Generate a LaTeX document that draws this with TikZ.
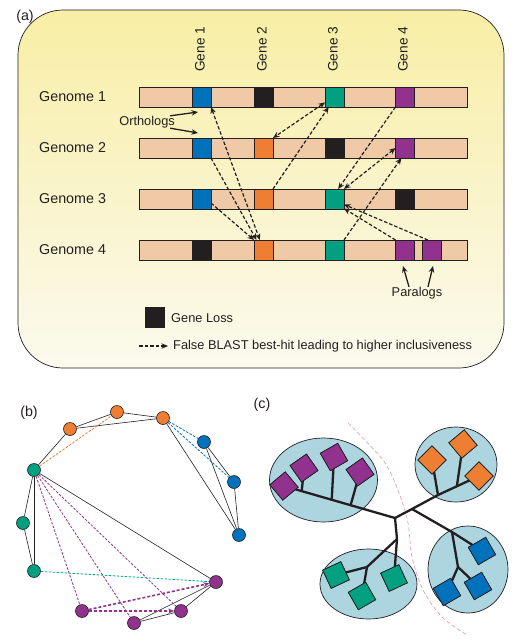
\documentclass[tikz,border=0pt]{standalone}
\usepackage{fontspec}
\setmainfont{Liberation Sans}
\usetikzlibrary{arrows.meta,shapes.geometric,calc}
\definecolor{inkc}{RGB}{35,31,32}
\definecolor{gblue}{RGB}{0,114,188}
\definecolor{gorange}{RGB}{238,126,50}
\definecolor{ggreen}{RGB}{0,160,128}
\definecolor{gpurple}{RGB}{146,50,143}
\definecolor{peach}{RGB}{240,201,166}
\definecolor{ytop}{RGB}{248,238,165}
\definecolor{ybot}{RGB}{251,250,238}
\definecolor{lblue}{RGB}{172,213,224}
\definecolor{pinkc}{RGB}{226,160,180}
\begin{document}
\begin{tikzpicture}[x=1pt,y=-1pt,
 lab/.style={inner sep=0pt, text=inkc, font=\fontsize{14.3}{16}\selectfont},
 genelab/.style={inner sep=0pt, text=inkc, font=\fontsize{13.7}{16}\selectfont, rotate=90, anchor=west},
 small/.style={inner sep=0pt, text=inkc, font=\fontsize{12.8}{15}\selectfont},
 bar/.style={draw=inkc, line width=0.7pt, fill=peach, minimum width=328pt, minimum height=20pt, inner sep=0pt, outer sep=0pt},
 cell/.style={draw=inkc, line width=0.7pt, fill=#1, minimum width=19pt, minimum height=20pt, inner sep=0pt, outer sep=0pt},
 hit/.style={draw=inkc, line width=1.2pt, dash pattern=on 3.5pt off 2pt, -{Stealth[length=6.5pt,width=5.5pt]}},
 hitb/.style={draw=inkc, line width=1.2pt, dash pattern=on 3.5pt off 2pt, {Stealth[length=6.5pt,width=5.5pt]}-{Stealth[length=6.5pt,width=5.5pt]}},
 pointer/.style={draw=inkc, line width=1.3pt, -{Stealth[length=6.5pt,width=5.5pt]}},
 bn/.style={circle, draw=inkc, line width=0.6pt, minimum size=13pt, inner sep=0pt, fill=#1},
 bl/.style={draw=inkc, line width=0.6pt},
 bd/.style={draw=#1, line width=0.8pt, dash pattern=on 2.5pt off 1.5pt},
 pth/.style={draw=gpurple, line width=1.6pt, dash pattern=on 3pt off 2pt, -{Stealth[length=6pt,width=5pt]}},
 grp/.style={ellipse, draw=inkc, line width=0.7pt, fill=lblue, inner sep=0pt},
 tr/.style={draw=inkc, line width=2.3pt, line cap=round, line join=round},
 sq/.style={draw=inkc, line width=0.7pt, fill=#1, minimum size=20pt, inner sep=0pt}]
\useasboundingbox (0,0) rectangle (517,641);

% ---------------- panel (a) ----------------
\shade[top color=ytop, bottom color=ybot, rounded corners=45pt] (18,10) rectangle (504,368);
\draw[inkc, line width=0.7pt, rounded corners=45pt] (18,10) rectangle (504,368);
\node[lab] (la) at (25,17) {(a)};

\node[genelab] (lg1) at (200,72) {Gene 1};
\node[genelab] (lg2) at (262,72) {Gene 2};
\node[genelab] (lg3) at (333,72) {Gene 3};
\node[genelab] (lg4) at (403,72) {Gene 4};

\node[lab, anchor=west] (n1) at (39,97) {Genome 1};
\node[lab, anchor=west] (n2) at (39,148) {Genome 2};
\node[lab, anchor=west] (n3) at (39,199) {Genome 3};
\node[lab, anchor=west] (n4) at (39,250) {Genome 4};

\node[bar] (bar1) at (303,97) {};
\node[bar] (bar2) at (303,148) {};
\node[bar] (bar3) at (303,199) {};
\node[bar] (bar4) at (303,250) {};

\node[cell=gblue] (c11) at (201.5,97) {};
\node[cell=inkc] (c12) at (263.5,97) {};
\node[cell=ggreen] (c13) at (334.5,97) {};
\node[cell=gpurple] (c14) at (405,97) {};

\node[cell=gblue] (c21) at (201.5,148) {};
\node[cell=gorange] (c22) at (263.5,148) {};
\node[cell=inkc] (c23) at (334.5,148) {};
\node[cell=gpurple] (c24) at (405,148) {};

\node[cell=gblue] (c31) at (201.5,199) {};
\node[cell=gorange] (c32) at (263.5,199) {};
\node[cell=ggreen] (c33) at (334.5,199) {};
\node[cell=inkc] (c34) at (405,199) {};

\node[cell=inkc] (c41) at (201.5,250) {};
\node[cell=gorange] (c42) at (263.5,250) {};
\node[cell=ggreen] (c43) at (334.5,250) {};
\node[cell=gpurple] (c44) at (405,250) {};
\node[cell=gpurple] (c45) at (431.5,250) {};

% false best hits
\draw[hitb] (c11.south east) -- (c42.110);
\draw[hit] (c21.south east) -- (c42.125);
\draw[hit] (c31.-23) -- (c42.north west);
\draw[hitb] (c13.-150) -- (c22.north east);
\draw[hit] (c32.north east) -- (c13.-120);
\draw[hit] (c14.south west) -- (c33.70);
\draw[hitb] (c24.west) -- (c33.north east);
\draw[hit] (c43.north east) -- (c24.-110);
\draw[hit] (c45.110) -- (c33.-30);
\draw[hit] (c44.north west) -- (c33.-45);

% orthologs / paralogs
\node[small, anchor=east] (orth) at (175,122) {Orthologs};
\coordinate (oa) at (198,112);
\coordinate (ob) at (198,133);
\draw[pointer] (orth.15) -- (oa);
\draw[pointer] (orth.-15) -- (ob);

\node[small] (para) at (417,293) {Paralogs};
\coordinate (pa) at (403,266);
\coordinate (pb) at (433,266);
\draw[pointer] ($(para.north)+(-8,0)$) -- (pa);
\draw[pointer] ($(para.north)+(11,0)$) -- (pb);

% legend
\node[cell=inkc] (leg) at (154.5,317) {};
\node[small, anchor=west] (legt) at (171,318) {Gene Loss};
\coordinate (lgs) at (139,346);
\node[small, anchor=west] (legh) at (173,346) {False BLAST best-hit leading to higher inclusiveness};
\draw[hit, shorten >=5pt] (lgs) -- (legh.west);

% ---------------- panel (b) ----------------
\node[lab] (lb) at (29,413) {(b)};
\node[bn=gorange] (O1) at (70,429) {};
\node[bn=gorange] (O2) at (117,412) {};
\node[bn=gorange] (O3) at (163,418) {};
\node[bn=gblue] (B1) at (204,442) {};
\node[bn=gblue] (B2) at (234,482) {};
\node[bn=gblue] (B3) at (239,535) {};
\node[bn=ggreen] (G1) at (34,470) {};
\node[bn=ggreen] (G2) at (23,523) {};
\node[bn=ggreen] (G3) at (34,571) {};
\node[bn=gpurple] (P1) at (216,582) {};
\node[bn=gpurple] (P2) at (82,611) {};
\node[bn=gpurple] (P3) at (134,623) {};
\node[bn=gpurple] (P4) at (181,611) {};

\draw[bl] (O1) -- (O2);
\draw[bl] (O2) -- (O3);
\draw[bl] (O1) -- (O3);
\draw[bl] (O1) -- (G1);
\draw[bl] (O3) -- (B3);
\draw[bl] (B1) -- (B2);
\draw[bl] (B1) -- (B3);
\draw[bl] (B2) -- (B3);
\draw[bl] (G1) -- (G2);
\draw[bl] (G2) -- (G3);
\draw[bl] (G1) -- (G3);
\draw[bl] (G1) -- (P1);
\draw[bl] (P1) -- (P3);
\draw[bl] (P1) -- (P4);
\draw[bl] (P3) -- (P4);

\draw[bd=gorange] (G1) -- (O2);
\draw[bd=gblue] (O3) -- (B1);
\draw[bd=gblue] (O3) -- (B2);
\draw[bd=gpurple] (G1) -- (P2);
\draw[bd=gpurple] (G1) -- (P3);
\draw[bd=gpurple] (G1) -- (P4);
\draw[bd=ggreen] (G3) -- (P1);
\draw[pth] (P2) -- (P1);
\draw[pth] (P2) -- (P4);

% ---------------- panel (c) ----------------
\node[lab] (lc) at (262,405) {(c)};
\node[grp, minimum width=108pt, minimum height=84pt] (ep) at (323.5,480) {};
\node[grp, minimum width=82pt, minimum height=75pt] (eo) at (456,464.5) {};
\node[grp, minimum width=97pt, minimum height=70pt] (eg) at (368.5,584) {};
\node[grp, minimum width=80pt, minimum height=87pt] (eb) at (468,569.5) {};

\draw[pinkc, line width=0.7pt, dash pattern=on 4pt off 2.5pt]
  plot[smooth] coordinates {(348,423) (383,460) (398,490) (408,523) (412,557) (423,590) (442,617) (467,635)};

\coordinate (R) at (395,518);
\coordinate (A) at (412,509);
\coordinate (Gn1) at (397,539);
\coordinate (Gn2) at (367,567);
\coordinate (Bn1) at (452,532);
\coordinate (Bn2) at (458,567);
\coordinate (Oa) at (438,495);

\node[sq=gpurple, rotate=40] (ps1) at (284,486) {};
\node[sq=gpurple, rotate=35] (ps2) at (304,468) {};
\node[sq=gpurple, rotate=30] (ps3) at (334,457) {};
\node[sq=gpurple, rotate=35] (ps4) at (360,472) {};
\node[sq=gorange, rotate=45] (os1) at (432,460) {};
\node[sq=gorange, rotate=40] (os2) at (463,444) {};
\node[sq=gorange, rotate=45] (os3) at (479,476) {};
\node[sq=ggreen, rotate=25] (gs1) at (336,575) {};
\node[sq=ggreen, rotate=30] (gs2) at (362,596) {};
\node[sq=ggreen, rotate=25] (gs3) at (394,578) {};
\node[sq=gblue, rotate=30] (bs1) at (447,592) {};
\node[sq=gblue, rotate=30] (bs2) at (478,586) {};
\node[sq=gblue, rotate=30] (bs3) at (482,551) {};

\coordinate (pb2) at ($(R)!0.84!(ps1.center)$);
\coordinate (pb3) at ($(R)!0.57!(ps1.center)$);
\coordinate (pb4) at ($(R)!0.40!(ps1.center)$);
\coordinate (Ob) at ($(Oa)!0.46!(os3.center)$);

\begin{scope}
\draw[tr] (R) -- (A);
\draw[tr] (R) -- (ps1.center);
\draw[tr] (pb2) -- (ps2.center);
\draw[tr] (pb3) -- (ps3.center);
\draw[tr] (pb4) -- (ps4.center);
\draw[tr] (R) -- (Gn1);
\draw[tr] (Gn1) -- (gs3.center);
\draw[tr] (Gn1) -- (Gn2);
\draw[tr] (Gn2) -- (gs1.center);
\draw[tr] (Gn2) -- (gs2.center);
\draw[tr] (A) -- (Bn1);
\draw[tr] (Bn1) -- (bs3.center);
\draw[tr] (Bn1) -- (Bn2);
\draw[tr] (Bn2) -- (bs1.center);
\draw[tr] (Bn2) -- (bs2.center);
\draw[tr] (A) -- (Oa);
\draw[tr] (Oa) -- (os3.center);
\draw[tr] (Oa) -- (os1.center);
\draw[tr] (Ob) -- (os2.center);
\end{scope}

% redraw squares above the branches
\node[sq=gpurple, rotate=40] at (ps1) {};
\node[sq=gpurple, rotate=35] at (ps2) {};
\node[sq=gpurple, rotate=30] at (ps3) {};
\node[sq=gpurple, rotate=35] at (ps4) {};
\node[sq=gorange, rotate=45] at (os1) {};
\node[sq=gorange, rotate=40] at (os2) {};
\node[sq=gorange, rotate=45] at (os3) {};
\node[sq=ggreen, rotate=25] at (gs1) {};
\node[sq=ggreen, rotate=30] at (gs2) {};
\node[sq=ggreen, rotate=25] at (gs3) {};
\node[sq=gblue, rotate=30] at (bs1) {};
\node[sq=gblue, rotate=30] at (bs2) {};
\node[sq=gblue, rotate=30] at (bs3) {};
\end{tikzpicture}
\end{document}
